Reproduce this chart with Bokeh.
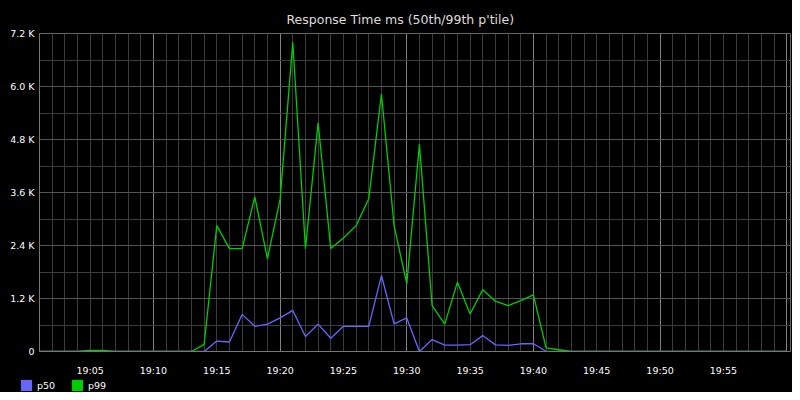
from bokeh.plotting import figure
from bokeh.layouts import column
from bokeh.models import (FixedTicker, Legend, LegendItem, ColumnDataSource,
                          Range1d)
from bokeh.embed import file_html
from bokeh.resources import INLINE

# ---- data (one point per minute, 19:01 .. 20:00) ----
start_minute = 1  # 19:01
p99 = [0, 0, 0, 0, 25, 25, 0, 0, 0, 0,
       0, 0, 0, 160, 2850, 2330, 2330, 3500, 2100, 3450,
       7000, 2330, 5180, 2330, 2570, 2850, 3460, 5830, 2850, 1530,
       4690, 1040, 620, 1570, 850, 1400, 1140, 1040, 1150, 1280,
       80, 40, 0, 0, 0, 0, 0, 0, 0, 0,
       0, 0, 0, 0, 0, 0, 0, 0, 0, 0]
p50 = [0, 0, 0, 0, 0, 0, 0, 0, 0, 0,
       0, 0, 0, 0, 235, 215, 840, 570, 620, 760,
       930, 340, 620, 300, 570, 570, 570, 1720, 625, 760,
       0, 270, 145, 145, 155, 360, 150, 140, 175, 175,
       5, 0, 0, 0, 0, 0, 0, 0, 0, 0,
       0, 0, 0, 0, 0, 0, 0, 0, 0, 0]
series_names = ["p50", "p99"]
series_colors = ["#6666ff", "#00cc00"]
x_tick_values = [5, 10, 15, 20, 25, 30, 35, 40, 45, 50, 55]
x_tick_labels = ["19:05", "19:10", "19:15", "19:20", "19:25", "19:30",
                 "19:35", "19:40", "19:45", "19:50", "19:55"]
y_tick_values = [0, 1200, 2400, 3600, 4800, 6000, 7200]
y_tick_labels = ["0", "1.2 K", "2.4 K", "3.6 K", "4.8 K", "6.0 K", "7.2 K"]
title_text = "Response Time ms (50th/99th p'tile)"

minutes = [start_minute + i for i in range(len(p99))]
src = ColumnDataSource(dict(x=minutes, p50=p50, p99=p99))

FONT = "DejaVu Sans"

p = figure(width=792, height=378, output_backend="svg", toolbar_location=None,
           x_range=Range1d(1, 60.3), y_range=Range1d(0, 7200),
           min_border_left=39, min_border_right=2, min_border_top=33,
           min_border_bottom=27, background_fill_color="#000000",
           border_fill_color="#000000", outline_line_color="#666666")

# title
p.title.text = title_text
p.title.align = "left"
p.title.offset = 247
p.title.standoff = 13
p.title.text_font = FONT
p.title.text_font_size = "12.5px"
p.title.text_font_style = "normal"
p.title.text_color = "#dddddd"

# axes
p.xaxis.ticker = FixedTicker(ticks=x_tick_values,
                             minor_ticks=list(range(1, 61)))
p.xaxis.major_label_overrides = {v: l for v, l in zip(x_tick_values, x_tick_labels)}
p.yaxis.ticker = FixedTicker(ticks=y_tick_values,
                             minor_ticks=[600, 1800, 3000, 4200, 5400, 6600])
p.yaxis.major_label_overrides = {v: l for v, l in zip(y_tick_values, y_tick_labels)}
for ax in (p.xaxis, p.yaxis):
    ax.major_tick_line_color = None
    ax.minor_tick_line_color = None
    ax.major_tick_out = 0
    ax.minor_tick_out = 0
    ax.major_tick_in = 0
    ax.minor_tick_in = 0
    ax.major_label_text_color = "#ffffff"
    ax.major_label_text_font = FONT
    ax.major_label_text_font_size = "9.5px"
    ax.axis_line_color = "#777777"
p.xaxis.major_label_standoff = 13
p.yaxis.major_label_standoff = 5

# grids
p.xgrid.ticker = FixedTicker(ticks=[10, 20, 30, 40, 50, 60],
                             minor_ticks=list(range(1, 61)))
p.xgrid.grid_line_color = "#808080"
p.xgrid.minor_grid_line_color = "#3c3c3c"
p.ygrid.grid_line_color = "#555555"
p.ygrid.minor_grid_line_color = "#3c3c3c"

# lines
p.line("x", "p50", source=src, line_color=series_colors[0], line_width=1.3)
p.line("x", "p99", source=src, line_color=series_colors[1], line_width=1.3)

# ---- legend strip below the chart ----
q = figure(width=792, height=14, output_backend="svg", toolbar_location=None,
           x_range=Range1d(1, 60.3), y_range=Range1d(0, 7200),
           x_axis_location=None, y_axis_location=None,
           min_border_left=0, min_border_right=0, min_border_top=0,
           min_border_bottom=0, background_fill_color="#000000",
           border_fill_color="#000000", outline_line_color=None)
q.xgrid.visible = False
q.ygrid.visible = False
for fig in (p, q):
    if "frame_align" in fig.properties():
        fig.frame_align = False
items = []
for name, col in zip(series_names, series_colors):
    # zero-area quads on the data: invisible, only give the legend its swatch
    r = q.quad(left="x", right="x", top=name, bottom=name, source=src,
               fill_color=col, line_color=None)
    items.append(LegendItem(label=name, renderers=[r]))
legend = Legend(items=items, orientation="horizontal", location=(19, 0),
                glyph_width=14, glyph_height=14, label_text_font=FONT,
                label_text_font_size="9.5px", label_text_color="#ffffff",
                label_standoff=4, spacing=13, padding=0, margin=0,
                background_fill_alpha=0, border_line_alpha=0,
                label_height=14)
q.add_layout(legend, "center")

layout = column(p, q, spacing=0, styles={"background-color": "#000000"})
open("out.html", "w").write(file_html(layout, INLINE))
